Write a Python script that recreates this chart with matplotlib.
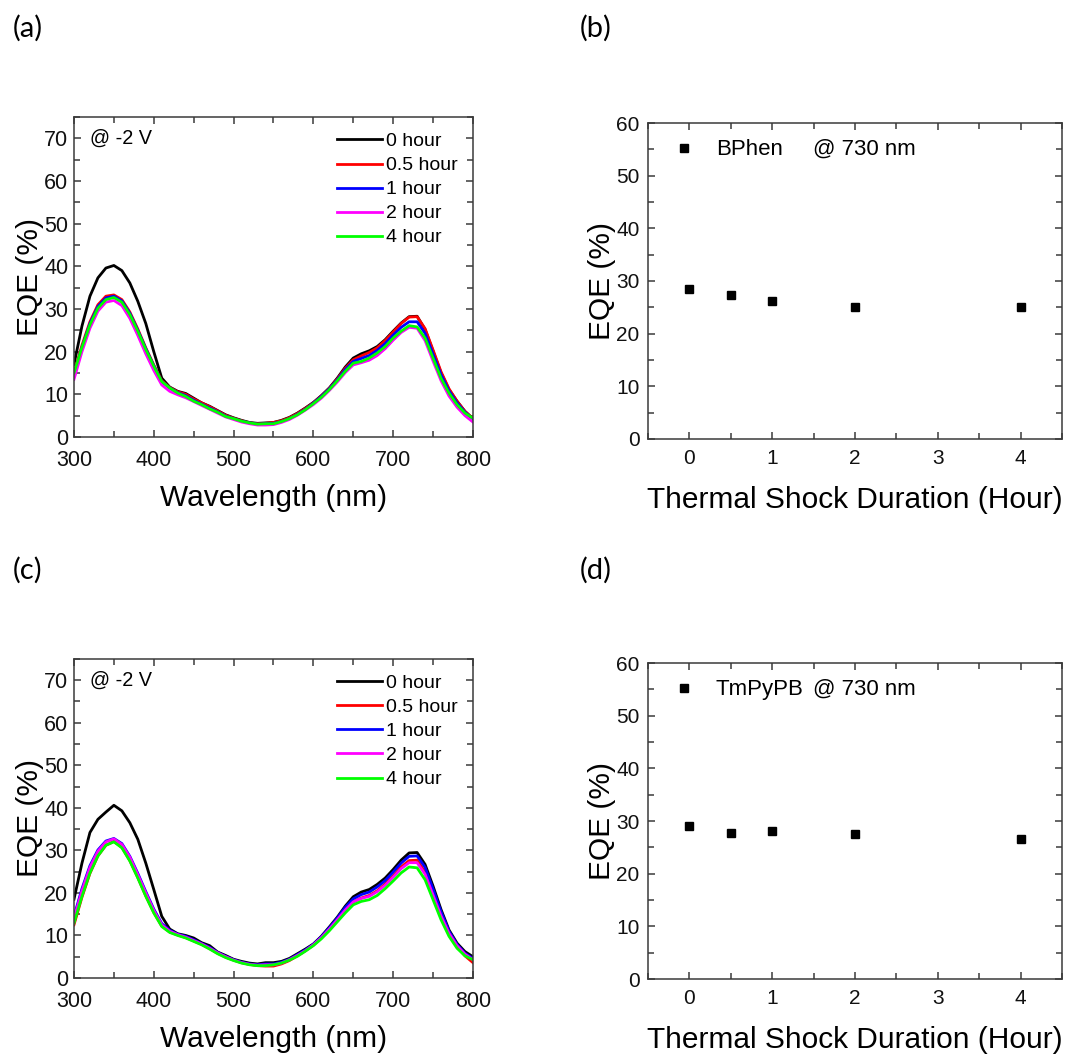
import numpy as np
import matplotlib
matplotlib.use('Agg')
import matplotlib.pyplot as plt
from matplotlib.lines import Line2D
from matplotlib.ticker import MultipleLocator

plt.rcParams['font.family'] = ['Liberation Sans', 'DejaVu Sans']

# wavelength grid (nm)
wavelength = np.arange(300, 801, 10)

durations = ['0 hour', '0.5 hour', '1 hour', '2 hour', '4 hour']
line_colors = ['black', '#ff0000', '#0000ff', '#ff00ff', '#00ff00']

# BPhen device, EQE (%) at -2 V
a_0h = [17.0, 26.0, 33.0, 37.3, 39.6, 40.2, 39.0, 36.1, 31.8, 26.6, 20.0, 13.8, 11.7, 10.7, 10.2, 9.1, 8.0,
        7.2, 6.2, 5.2, 4.5, 3.9, 3.4, 3.2, 3.3, 3.4, 3.9, 4.6, 5.6, 6.8, 8.1, 9.7, 11.5, 13.8, 16.4, 18.5,
        19.5, 20.2, 21.2, 22.8, 24.8, 26.7, 28.2, 28.3, 25.2, 20.1, 15.0, 11.1, 8.4, 6.0, 4.3]
a_05h = [15.0, 21.5, 27.0, 31.0, 33.0, 33.3, 32.2, 29.3, 25.3, 20.9, 16.9, 13.2, 11.6, 10.6, 10.0, 8.9, 8.0,
         7.1, 6.1, 5.1, 4.4, 3.8, 3.3, 3.1, 3.2, 3.4, 3.8, 4.5, 5.5, 6.7, 8.0, 9.6, 11.4, 13.6, 16.1, 18.1,
         19.0, 19.8, 20.9, 22.6, 24.6, 26.6, 28.1, 28.2, 25.4, 20.4, 15.3, 11.3, 8.4, 6.0, 4.3]
a_1h = [14.5, 21.0, 26.6, 30.6, 32.6, 33.0, 31.9, 29.0, 25.0, 20.7, 16.7, 13.0, 11.5, 10.4, 9.7, 8.6, 7.7,
        6.8, 5.9, 4.9, 4.3, 3.7, 3.3, 3.0, 3.1, 3.2, 3.6, 4.3, 5.3, 6.5, 7.9, 9.5, 11.3, 13.4, 15.8, 17.7,
        18.4, 19.1, 20.3, 21.9, 23.9, 25.7, 27.0, 27.0, 24.3, 19.4, 14.6, 10.8, 8.0, 5.8, 4.2]
a_2h = [13.5, 20.0, 25.5, 29.5, 31.6, 32.0, 30.8, 27.8, 23.8, 19.5, 15.6, 12.2, 10.7, 9.9, 9.2, 8.3, 7.4,
        6.5, 5.6, 4.7, 4.1, 3.5, 3.1, 2.8, 2.8, 2.9, 3.4, 4.1, 5.1, 6.3, 7.6, 9.1, 10.9, 12.9, 15.1, 16.9,
        17.4, 18.0, 19.1, 20.7, 22.7, 24.5, 25.7, 25.5, 22.6, 17.8, 13.2, 9.6, 7.0, 5.0, 3.5]
a_4h = [15.0, 21.0, 26.3, 30.2, 32.2, 32.7, 31.6, 28.7, 24.8, 20.5, 16.6, 13.0, 11.5, 10.3, 9.5, 8.4, 7.6,
        6.6, 5.8, 4.8, 4.3, 3.7, 3.3, 3.0, 3.1, 3.1, 3.6, 4.3, 5.2, 6.4, 7.8, 9.3, 11.1, 13.2, 15.4, 17.3,
        17.7, 18.5, 19.7, 21.2, 23.2, 24.8, 26.1, 25.8, 23.2, 18.5, 13.8, 10.3, 7.6, 5.6, 4.4]

# TmPyPB device, EQE (%) at -2 V
c_0h = [18.5, 27.0, 34.2, 37.3, 39.0, 40.6, 39.3, 36.5, 32.6, 27.0, 20.8, 14.5, 11.5, 10.4, 10.0, 9.4, 8.3,
        7.6, 6.1, 5.3, 4.4, 3.9, 3.5, 3.3, 3.6, 3.6, 3.9, 4.6, 5.7, 6.8, 8.0, 9.8, 12.0, 14.3, 16.9, 19.1,
        20.2, 20.8, 22.0, 23.5, 25.5, 27.7, 29.4, 29.5, 26.7, 21.6, 16.1, 11.3, 8.2, 6.2, 5.0]
c_05h = [12.5, 19.0, 24.6, 28.7, 31.2, 32.1, 30.7, 27.6, 23.6, 19.3, 15.4, 12.2, 10.8, 10.1, 9.5, 8.7, 7.9,
         6.9, 5.8, 4.9, 4.2, 3.6, 3.2, 2.9, 2.8, 2.8, 3.3, 4.1, 5.2, 6.4, 7.7, 9.4, 11.4, 13.6, 15.9, 17.9,
         18.8, 19.4, 20.5, 22.1, 24.0, 26.1, 27.6, 27.7, 24.9, 19.8, 14.8, 10.5, 7.4, 5.2, 3.6]
c_1h = [14.5, 21.0, 26.4, 30.1, 32.2, 32.8, 31.6, 28.6, 24.6, 20.3, 16.2, 12.8, 11.2, 10.3, 9.8, 9.0, 8.1,
        7.2, 6.0, 5.1, 4.3, 3.7, 3.3, 3.1, 3.3, 3.3, 3.7, 4.4, 5.5, 6.6, 7.9, 9.7, 11.8, 14.1, 16.6, 18.6,
        19.6, 20.2, 21.4, 22.9, 24.9, 27.0, 28.6, 28.7, 26.0, 20.9, 15.6, 11.0, 7.9, 5.8, 4.6]
c_2h = [14.0, 20.5, 26.0, 29.8, 32.0, 32.7, 31.4, 28.4, 24.3, 20.0, 15.9, 12.5, 11.0, 10.2, 9.6, 8.8, 8.0,
        7.0, 5.9, 5.0, 4.2, 3.6, 3.2, 3.0, 3.1, 3.1, 3.5, 4.3, 5.3, 6.4, 7.8, 9.5, 11.5, 13.7, 16.0, 17.9,
        18.7, 19.2, 20.3, 21.8, 23.7, 25.7, 27.1, 27.1, 24.4, 19.5, 14.6, 10.5, 7.6, 5.6, 4.3]
c_4h = [12.9, 19.2, 24.7, 28.7, 31.2, 32.0, 30.6, 27.5, 23.5, 19.2, 15.3, 12.1, 10.7, 10.0, 9.4, 8.6, 7.8,
        6.8, 5.7, 4.8, 4.1, 3.5, 3.1, 2.9, 2.9, 3.1, 3.5, 4.2, 5.1, 6.3, 7.6, 9.2, 11.1, 13.2, 15.3, 17.2,
        18.0, 18.4, 19.4, 21.0, 22.8, 24.7, 26.1, 25.9, 23.1, 18.4, 13.7, 9.8, 7.0, 5.2, 4.3]

# EQE at 730 nm vs. thermal shock duration
shock_hours = [0, 0.5, 1, 2, 4]
eqe_bphen = [28.4, 27.3, 26.2, 25.1, 25.1]
eqe_tmpypb = [29.1, 27.7, 28.2, 27.5, 26.6]

axis_color = '#3a3a3a'


def style_axes(ax, tick_size):
    for s in ax.spines.values():
        s.set_color(axis_color)
        s.set_linewidth(1.1)
    ax.tick_params(which='both', direction='in', top=True, right=True,
                   color=axis_color, width=1.1, labelsize=tick_size, labelcolor='#111111')
    ax.tick_params(which='major', length=5)
    ax.tick_params(which='minor', length=4)


def spectrum_panel(ax, series):
    for vals, col, lab in zip(series, line_colors, durations):
        ax.plot(wavelength, vals, color=col, lw=2.0, label=lab)
    ax.set_xlim(300, 800)
    ax.set_ylim(0, 75)
    ax.xaxis.set_major_locator(MultipleLocator(100))
    ax.xaxis.set_minor_locator(MultipleLocator(50))
    ax.yaxis.set_major_locator(MultipleLocator(10))
    ax.yaxis.set_minor_locator(MultipleLocator(5))
    style_axes(ax, 15.5)
    ax.tick_params(axis='x', pad=9.5)
    ax.tick_params(axis='y', pad=4)
    ax.set_xlabel('Wavelength (nm)', fontsize=21.5, labelpad=9)
    ax.set_ylabel('EQE (%)', fontsize=21.5, labelpad=0)
    ax.text(0.04, 70, '@ -2 V', transform=ax.get_yaxis_transform(), fontsize=14.3,
            va='center', ha='left')
    ax.legend(loc='upper left', bbox_to_anchor=(0.659, 0.951), frameon=False, fontsize=14,
              borderpad=0, borderaxespad=0, handlelength=2.3, handletextpad=0.25,
              labelspacing=0.33)


def shock_panel(ax, eqe, name):
    ax.plot(shock_hours, eqe, 's', color='black', ms=6, ls='none')
    ax.set_xlim(-0.5, 4.5)
    ax.set_ylim(0, 60)
    ax.xaxis.set_major_locator(MultipleLocator(1))
    ax.xaxis.set_minor_locator(MultipleLocator(0.5))
    ax.yaxis.set_major_locator(MultipleLocator(10))
    ax.yaxis.set_minor_locator(MultipleLocator(5))
    style_axes(ax, 15)
    ax.tick_params(axis='x', pad=7)
    ax.tick_params(axis='y', pad=6)
    ax.set_xlabel('Thermal Shock Duration (Hour)', fontsize=21.5, labelpad=13)
    ax.set_ylabel('EQE (%)', fontsize=21.5, labelpad=0)
    handle = Line2D([], [], marker='s', color='black', ls='none', ms=5.5)
    ax.legend([handle], [name], loc='upper left', bbox_to_anchor=(0.060, 0.948), frameon=False,
              fontsize=16, borderpad=0, borderaxespad=0, handlelength=1.0, handletextpad=0.94)
    ax.text(0.399, 0.918, '@ 730 nm', transform=ax.transAxes, fontsize=16, va='center', ha='left')


fig = plt.figure(figsize=(10.88, 10.55), dpi=100)
ax_a = fig.add_axes([0.068, 0.5858, 0.3667, 0.3033])
ax_b = fig.add_axes([0.5956, 0.5839, 0.3805, 0.2995])
ax_c = fig.add_axes([0.068, 0.0730, 0.3667, 0.3024])
ax_d = fig.add_axes([0.5956, 0.0720, 0.3805, 0.2995])

spectrum_panel(ax_a, [a_0h, a_05h, a_1h, a_2h, a_4h])
shock_panel(ax_b, eqe_bphen, 'BPhen')
spectrum_panel(ax_c, [c_0h, c_05h, c_1h, c_2h, c_4h])
shock_panel(ax_d, eqe_tmpypb, 'TmPyPB')

# panel letters
for lab, x, y in [('(a)', 13, 28), ('(b)', 580, 28), ('(c)', 13, 570), ('(d)', 580, 570)]:
    fig.text(x / 1088, 1 - y / 1055, lab, fontsize=21, family=['Lato', 'DejaVu Sans'],
             va='center', ha='left')

fig.savefig('out.png', dpi=100)
